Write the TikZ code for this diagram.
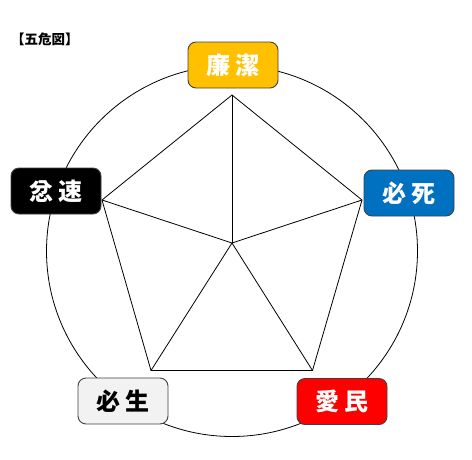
\documentclass[tikz,border=0pt]{standalone}
\usepackage{fontspec}
\newfontfamily\jpfont{Noto Sans CJK JP}
\usetikzlibrary{positioning}

\definecolor{kigold}{HTML}{FFC000}
\definecolor{aoblue}{HTML}{0070C0}
\definecolor{akared}{HTML}{FF0000}
\definecolor{usugray}{HTML}{F2F2F2}
\definecolor{waku}{HTML}{404040}

\begin{document}
\begin{tikzpicture}[
    x=1pt, y=-1pt,
    kiki/.style={draw=waku, line width=0.9pt, rounded corners=8pt, minimum width=90pt, minimum height=46pt,
      inner sep=0pt, font=\jpfont\bfseries\fontsize{24}{24}\selectfont},
    sen/.style={line width=0.8pt}
  ]
  \useasboundingbox (0,0) rectangle (472,459);

  \node[anchor=west, inner sep=0pt, font=\jpfont\bfseries\fontsize{13.5}{14}\selectfont] (title) at (11,39) {【五危図】};

  % circle and pentagon
  \coordinate (C) at (232,251);
  \draw[sen] (C) circle (185.5);
  \coordinate (O) at (232,243);
  \coordinate (p1) at (232,95);
  \coordinate (p2) at (362,200);
  \coordinate (p3) at (312.5,370.5);
  \coordinate (p4) at (151,370.5);
  \coordinate (p5) at (102,200);
  \draw[sen] (p1) -- (p2) -- (p3) -- (p4) -- (p5) -- cycle;
  \foreach \p in {p1,p2,p3,p4,p5}
    \draw[sen] (O) -- (\p);

  % the five boxes
  \node[kiki, fill=kigold, text=white] (renketsu) at (233,65) {廉\kern5pt潔};
  \node[kiki, fill=aoblue, text=white] (hisshi) at (409,193) {必\kern5pt死};
  \node[kiki, fill=akared, text=white] (aimin) at (342,401.5) {愛\kern5pt民};
  \node[kiki, fill=usugray, text=black] (hissei) at (123,401) {必\kern5pt生};
  \node[kiki, fill=black, text=white] (funsoku) at (56,191) {忿\kern5pt速};
\end{tikzpicture}
\end{document}
